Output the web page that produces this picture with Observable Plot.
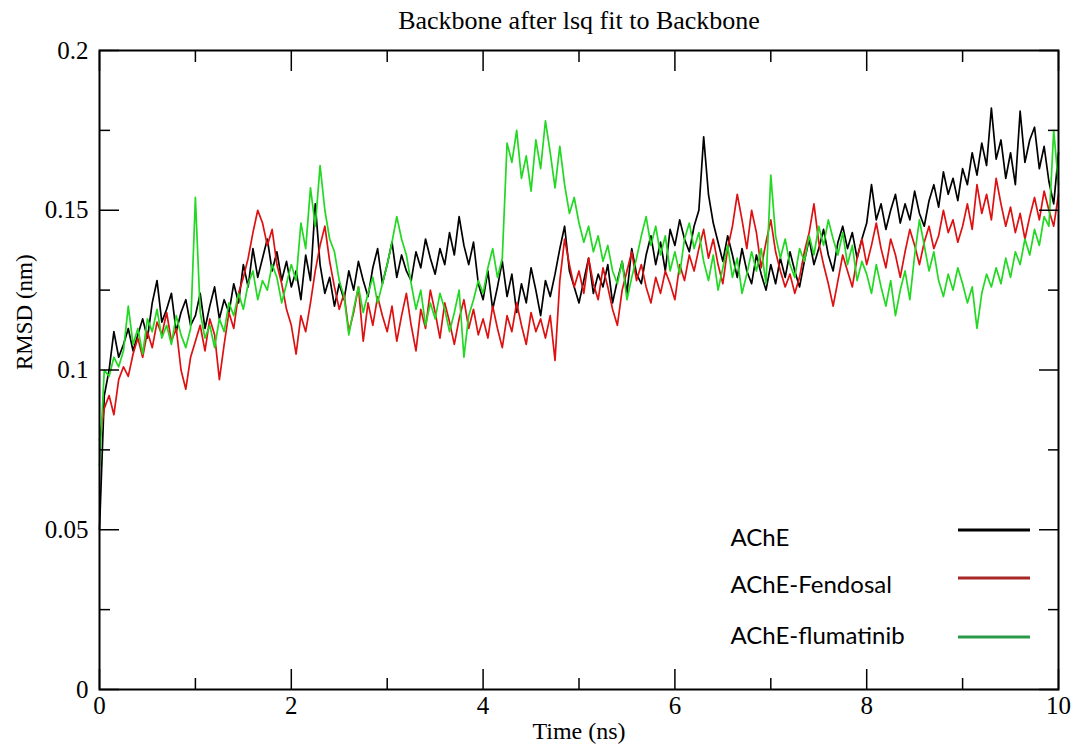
<!DOCTYPE html>
<html>
<head>
<meta charset="utf-8">
<script src="https://cdn.jsdelivr.net/npm/d3@7"></script>
<script src="https://cdn.jsdelivr.net/npm/@observablehq/plot@0.6"></script>
<style>
  html, body { margin: 0; padding: 0; background: #fff; }
  #chart { width: 1080px; height: 747px; }
</style>
</head>
<body>
<div id="chart"></div>
<script>
// ---- Data (RMSD in nm, sampled every 0.05 ns from 0 to 10 ns) ----
const title = "Backbone after lsq fit to Backbone";
const xTitle = "Time (ns)";
const yTitle = "RMSD (nm)";
const seriesNames = ["AChE", "AChE-Fendosal", "AChE-flumatinib"];
const timeStep = 0.05;

const ache = [
  0.050, 0.092, 0.100, 0.112, 0.104, 0.108, 0.113, 0.106, 0.111, 0.116, 0.110, 0.121, 0.128, 0.115, 0.119, 0.124, 0.112, 0.118, 0.122, 0.114,
  0.117, 0.124, 0.113, 0.120, 0.126, 0.116, 0.122, 0.118, 0.127, 0.121, 0.133, 0.126, 0.138, 0.129, 0.135, 0.141, 0.131, 0.137, 0.128, 0.134,
  0.126, 0.131, 0.122, 0.136, 0.128, 0.152, 0.133, 0.124, 0.129, 0.120, 0.127, 0.122, 0.131, 0.125, 0.134, 0.128, 0.123, 0.132, 0.138, 0.127,
  0.133, 0.140, 0.129, 0.136, 0.131, 0.128, 0.137, 0.132, 0.141, 0.135, 0.130, 0.138, 0.133, 0.143, 0.136, 0.148, 0.139, 0.133, 0.140, 0.127,
  0.122, 0.131, 0.119, 0.126, 0.134, 0.123, 0.130, 0.118, 0.127, 0.121, 0.132, 0.125, 0.117, 0.128, 0.123, 0.130, 0.138, 0.145, 0.131, 0.126,
  0.121, 0.128, 0.135, 0.124, 0.130, 0.126, 0.133, 0.121, 0.128, 0.134, 0.124, 0.138, 0.130, 0.127, 0.136, 0.142, 0.133, 0.140, 0.131, 0.144,
  0.139, 0.147, 0.141, 0.137, 0.145, 0.150, 0.173, 0.155, 0.146, 0.140, 0.134, 0.142, 0.136, 0.129, 0.138, 0.131, 0.127, 0.136, 0.130, 0.125,
  0.133, 0.127, 0.135, 0.129, 0.137, 0.131, 0.126, 0.134, 0.141, 0.133, 0.138, 0.144, 0.136, 0.131, 0.140, 0.145, 0.138, 0.143, 0.135, 0.141,
  0.146, 0.158, 0.147, 0.152, 0.144, 0.150, 0.155, 0.146, 0.152, 0.147, 0.156, 0.149, 0.145, 0.153, 0.158, 0.151, 0.162, 0.155, 0.160, 0.153,
  0.163, 0.158, 0.168, 0.161, 0.171, 0.164, 0.182, 0.166, 0.172, 0.160, 0.168, 0.158, 0.181, 0.165, 0.172, 0.176, 0.163, 0.170, 0.159, 0.152,
  0.168
];

const fendosal = [
  0.078, 0.088, 0.092, 0.086, 0.097, 0.101, 0.098, 0.105, 0.110, 0.104, 0.112, 0.107, 0.115, 0.111, 0.118, 0.109, 0.113, 0.100, 0.094, 0.104,
  0.109, 0.114, 0.106, 0.116, 0.111, 0.097, 0.108, 0.118, 0.113, 0.124, 0.129, 0.135, 0.143, 0.150, 0.146, 0.139, 0.144, 0.133, 0.127, 0.119,
  0.114, 0.105, 0.117, 0.112, 0.121, 0.131, 0.139, 0.145, 0.134, 0.126, 0.119, 0.124, 0.112, 0.118, 0.126, 0.109, 0.121, 0.114, 0.123, 0.117,
  0.112, 0.120, 0.109, 0.117, 0.124, 0.114, 0.106, 0.119, 0.113, 0.125, 0.118, 0.110, 0.121, 0.115, 0.108, 0.116, 0.122, 0.113, 0.119, 0.111,
  0.116, 0.110, 0.120, 0.113, 0.107, 0.117, 0.112, 0.121, 0.114, 0.108, 0.118, 0.112, 0.116, 0.110, 0.117, 0.103, 0.128, 0.141, 0.133, 0.126,
  0.131, 0.124, 0.135, 0.127, 0.122, 0.132, 0.126, 0.119, 0.114, 0.125, 0.131, 0.137, 0.128, 0.133, 0.126, 0.121, 0.129, 0.124, 0.131, 0.127,
  0.122, 0.133, 0.128, 0.136, 0.131, 0.138, 0.144, 0.135, 0.141, 0.133, 0.127, 0.138, 0.145, 0.155, 0.147, 0.138, 0.150, 0.143, 0.132, 0.140,
  0.147, 0.137, 0.131, 0.126, 0.130, 0.124, 0.129, 0.137, 0.143, 0.152, 0.140, 0.133, 0.127, 0.120, 0.128, 0.136, 0.131, 0.126, 0.135, 0.141,
  0.133, 0.139, 0.146, 0.138, 0.132, 0.141, 0.136, 0.129, 0.137, 0.144, 0.139, 0.133, 0.140, 0.145, 0.138, 0.142, 0.150, 0.143, 0.147, 0.140,
  0.145, 0.152, 0.144, 0.158, 0.149, 0.155, 0.147, 0.160, 0.152, 0.145, 0.151, 0.143, 0.149, 0.141, 0.148, 0.154, 0.147, 0.156, 0.150, 0.145,
  0.155
];

const flumatinib = [
  0.070, 0.100, 0.098, 0.104, 0.101, 0.106, 0.120, 0.108, 0.113, 0.105, 0.116, 0.112, 0.119, 0.110, 0.114, 0.108, 0.117, 0.111, 0.107, 0.113,
  0.154, 0.118, 0.110, 0.114, 0.107, 0.116, 0.112, 0.121, 0.117, 0.124, 0.119, 0.127, 0.131, 0.122, 0.128, 0.125, 0.133, 0.129, 0.121, 0.127,
  0.133, 0.128, 0.146, 0.138, 0.157, 0.145, 0.164, 0.150, 0.141, 0.137, 0.128, 0.123, 0.111, 0.119, 0.126, 0.118, 0.124, 0.129, 0.121, 0.127,
  0.133, 0.140, 0.148, 0.141, 0.136, 0.127, 0.119, 0.125, 0.114, 0.121, 0.116, 0.124, 0.119, 0.112, 0.118, 0.125, 0.104, 0.117, 0.122, 0.128,
  0.124, 0.132, 0.138, 0.129, 0.135, 0.171, 0.165, 0.175, 0.160, 0.167, 0.156, 0.172, 0.163, 0.178, 0.168, 0.157, 0.170, 0.158, 0.149, 0.154,
  0.146, 0.140, 0.145, 0.137, 0.142, 0.134, 0.139, 0.131, 0.127, 0.134, 0.122, 0.129, 0.135, 0.142, 0.148, 0.139, 0.145, 0.136, 0.142, 0.131,
  0.137, 0.130, 0.141, 0.146, 0.138, 0.143, 0.134, 0.128, 0.136, 0.125, 0.132, 0.139, 0.129, 0.135, 0.124, 0.130, 0.137, 0.131, 0.138, 0.127,
  0.161, 0.142, 0.135, 0.141, 0.133, 0.129, 0.138, 0.134, 0.142, 0.136, 0.145, 0.139, 0.147, 0.141, 0.136, 0.143, 0.133, 0.139, 0.128, 0.134,
  0.130, 0.124, 0.133, 0.126, 0.120, 0.128, 0.117, 0.125, 0.131, 0.122, 0.136, 0.147, 0.139, 0.131, 0.137, 0.128, 0.123, 0.130, 0.125, 0.132,
  0.127, 0.121, 0.126, 0.113, 0.124, 0.130, 0.126, 0.132, 0.127, 0.135, 0.129, 0.137, 0.133, 0.141, 0.136, 0.144, 0.139, 0.148, 0.145, 0.175,
  0.158
];

const xMajorTicks = [0, 2, 4, 6, 8, 10];
const xMinorTicks = [1, 3, 5, 7, 9];
const yMajorTicks = [0, 0.05, 0.1, 0.15, 0.2];
const yMinorTicks = [0.025, 0.075, 0.125, 0.175];

// ---- Styles ----
const lineColors = ["#000000", "#dd1111", "#22d822"];
const legendColors = ["#000000", "#a82828", "#2a9a48"];
const legendTextDy = [-144, -97, -46];   // pixel offsets of legend rows from the frame bottom
const legendLineDy = [-159, -111, -52];

const allSeries = [ache, fendosal, flumatinib];
const rows = allSeries.map(vals => vals.map((v, i) => ({t: +(i * timeStep).toFixed(2), v})));

const fmt = d => String(d);
const blank = () => "";
const serif = "'Liberation Serif', 'Times New Roman', serif";
const sans = "Lato, 'Open Sans', sans-serif";

const chart = Plot.plot({
  width: 1080,
  height: 747,
  marginLeft: 99,
  marginRight: 22,
  marginTop: 50,
  marginBottom: 58,
  style: {fontFamily: serif, fontSize: "25px", background: "white", color: "black"},
  x: {domain: [0, 10]},
  y: {domain: [0, 0.2]},
  marks: [
    // series lines
    ...rows.map((d, i) => Plot.lineY(d, {x: "t", y: "v", stroke: lineColors[i], strokeWidth: 1.7})),
    // inward major / minor ticks on all four sides
    Plot.axisX({anchor: "bottom", ticks: xMajorTicks, tickSize: -20, tickFormat: blank, label: null, strokeWidth: 1.5}),
    Plot.axisX({anchor: "bottom", ticks: xMinorTicks, tickSize: -11, tickFormat: blank, label: null, strokeWidth: 1.5}),
    Plot.axisX({anchor: "top", ticks: xMajorTicks, tickSize: -20, tickFormat: blank, label: null, strokeWidth: 1.5}),
    Plot.axisX({anchor: "top", ticks: xMinorTicks, tickSize: -11, tickFormat: blank, label: null, strokeWidth: 1.5}),
    Plot.axisY({anchor: "left", ticks: yMajorTicks, tickSize: -20, tickFormat: blank, label: null, strokeWidth: 1.5}),
    Plot.axisY({anchor: "left", ticks: yMinorTicks, tickSize: -11, tickFormat: blank, label: null, strokeWidth: 1.5}),
    Plot.axisY({anchor: "right", ticks: yMajorTicks, tickSize: -20, tickFormat: blank, label: null, strokeWidth: 1.5}),
    Plot.axisY({anchor: "right", ticks: yMinorTicks, tickSize: -11, tickFormat: blank, label: null, strokeWidth: 1.5}),
    // tick labels
    Plot.axisX({anchor: "bottom", ticks: xMajorTicks, tickSize: 0, tickPadding: 7, tickFormat: fmt, label: null, fontSize: 25}),
    Plot.axisY({anchor: "left", ticks: yMajorTicks, tickSize: 0, tickPadding: 11, tickFormat: fmt, label: null, fontSize: 25}),
    // frame
    Plot.frame({stroke: "black", strokeWidth: 2}),
    // titles
    Plot.text([title], {text: d => d, frameAnchor: "top", dy: -40, fontSize: 26, fontFamily: serif}),
    Plot.text([xTitle], {text: d => d, frameAnchor: "bottom", dy: 49, fontSize: 24, fontFamily: serif}),
    Plot.text([yTitle], {text: d => d, frameAnchor: "left", dx: -75, rotate: -90, fontSize: 23, fontFamily: serif}),
    // legend labels, one row each, anchored to the bottom-left of the frame
    ...seriesNames.map((name, i) => Plot.text([name], {text: d => d, frameAnchor: "bottom-left",
      dx: 631, dy: legendTextDy[i], textAnchor: "start", fontSize: 24, fontFamily: sans}))
  ]
});

// legend swatch lines
const svg = d3.select(chart);
const lg = svg.append("g");
seriesNames.forEach((n, i) => {
  const y = 689 + legendLineDy[i];
  lg.append("line").attr("x1", 958).attr("x2", 1030).attr("y1", y).attr("y2", y)
    .attr("stroke", legendColors[i]).attr("stroke-width", 3);
});

document.getElementById("chart").appendChild(chart);
</script>
</body>
</html>
